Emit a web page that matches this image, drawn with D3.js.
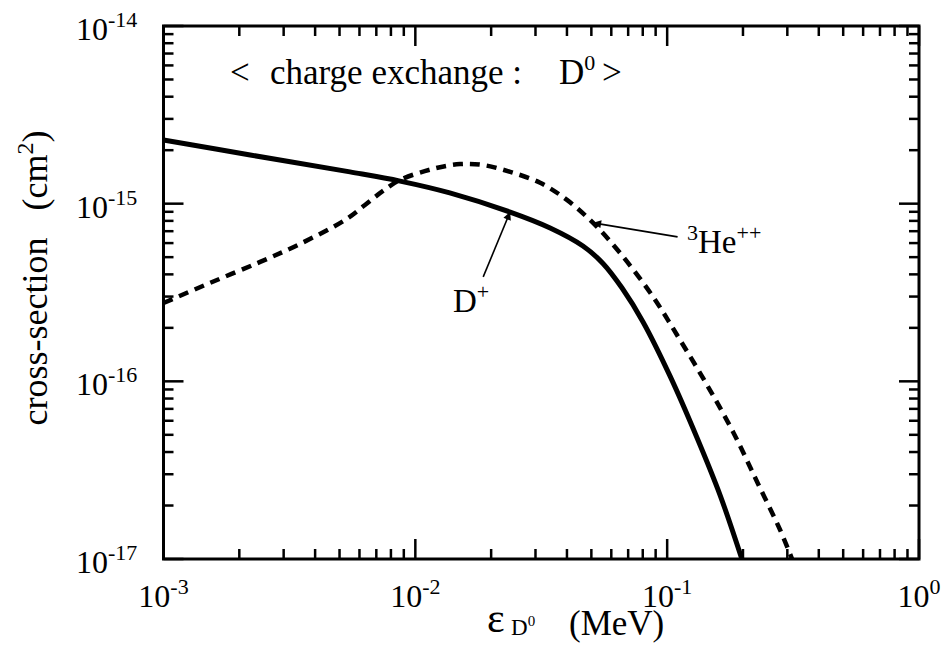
<!DOCTYPE html>
<html lang="en">
<head>
<meta charset="UTF-8">
<title>charge exchange</title>
<script src="https://unpkg.com/d3@7.8.5/dist/d3.min.js"></script>
<style>
  body { margin: 0; background: #fff; }
  text { font-family: "Liberation Serif", "DejaVu Serif", serif; fill: #000; white-space: pre; }
</style>
</head>
<body>
<svg width="945" height="649"></svg>
<script>
// energy (MeV) and cross-section (cm^2)
var dEnergy = [0.001, 0.00221, 0.0055, 0.0087, 0.0137, 0.0238, 0.0343, 0.0463, 0.0556, 0.0662, 0.0802, 0.1027, 0.1315, 0.1622, 0.198]
var dSigma  = [2.28e-15, 1.88e-15, 1.51e-15, 1.34e-15, 1.15e-15, 8.97e-16, 7.3e-16, 5.78e-16, 4.61e-16, 3.35e-16, 2.16e-16, 1.07e-16, 4.8e-17, 2.29e-17, 1.0e-17]

var heEnergy = [0.001, 0.00153, 0.00242, 0.00348, 0.00526, 0.00631, 0.00744, 0.0087, 0.01175, 0.01505, 0.01857, 0.0238, 0.0313, 0.040, 0.0508, 0.065, 0.0879, 0.1125, 0.144, 0.1827, 0.2275, 0.2807, 0.3133]
var heSigma  = [2.76e-16, 3.58e-16, 4.70e-16, 5.93e-16, 8.10e-16, 9.83e-16, 1.18e-15, 1.36e-15, 1.57e-15, 1.67e-15, 1.65e-15, 1.51e-15, 1.31e-15, 1.05e-15, 7.79e-16, 5.28e-16, 2.99e-16, 1.71e-16, 9.54e-17, 5.19e-17, 2.72e-17, 1.46e-17, 1.0e-17]

var xDecades = [-3, -2, -1, 0]
var yDecades = [-14, -15, -16, -17]

var svg = d3.select('svg')
var pLeft = 163.5, pRight = 919, pTop = 26, pBottom = 559

var x = d3.scaleLog().domain([1e-3, 1]).range([pLeft, pRight])
var y = d3.scaleLog().domain([1e-17, 1e-14]).range([pBottom, pTop])

// frame
svg.append('rect')
  .attr('x', pLeft).attr('y', pTop)
  .attr('width', pRight - pLeft).attr('height', pBottom - pTop)
  .attr('fill', 'none').attr('stroke', '#000').attr('stroke-width', 3)

function isMajor(v) {
  var l = Math.log10(v)
  return Math.abs(l - Math.round(l)) < 1e-6
}

// ticks pointing inwards on all four sides
var ticks = svg.append('g').attr('stroke', '#000').attr('stroke-width', 2.5)
x.ticks().forEach(function (v) {
  var len = isMajor(v) ? 20 : 10
  ticks.append('line').attr('x1', x(v)).attr('x2', x(v)).attr('y1', pBottom).attr('y2', pBottom - len)
  ticks.append('line').attr('x1', x(v)).attr('x2', x(v)).attr('y1', pTop).attr('y2', pTop + len)
})
y.ticks().forEach(function (v) {
  var len = isMajor(v) ? 20 : 10
  ticks.append('line').attr('y1', y(v)).attr('y2', y(v)).attr('x1', pLeft).attr('x2', pLeft + len)
  ticks.append('line').attr('y1', y(v)).attr('y2', y(v)).attr('x1', pRight).attr('x2', pRight - len)
})

// tick labels 10^n
xDecades.forEach(function (d) {
  var t = svg.append('text').attr('x', x(Math.pow(10, d))).attr('y', 607)
    .attr('text-anchor', 'middle').attr('font-size', 32)
  t.append('tspan').text('10')
  t.append('tspan').attr('dy', -13).attr('font-size', 22).text(d === 0 ? '0' : '-' + (-d))
})
yDecades.forEach(function (d) {
  var t = svg.append('text').attr('x', 76).attr('y', y(Math.pow(10, d)) + 14)
    .attr('font-size', 32)
  t.append('tspan').text('10')
  t.append('tspan').attr('dy', -13).attr('font-size', 22).text('-' + (-d))
})

// curves
var line = d3.line()
  .x(function (d) { return x(d[0]) })
  .y(function (d) { return y(d[1]) })
  .curve(d3.curveCatmullRom.alpha(0.5))

svg.append('path')
  .datum(d3.zip(heEnergy, heSigma))
  .attr('d', line)
  .attr('fill', 'none').attr('stroke', '#000').attr('stroke-width', 4.5)
  .attr('stroke-dasharray', '10,7')

svg.append('path')
  .datum(d3.zip(dEnergy, dSigma))
  .attr('d', line)
  .attr('fill', 'none').attr('stroke', '#000').attr('stroke-width', 5)

// arrowhead
svg.append('defs').append('marker')
  .attr('id', 'head').attr('viewBox', '0 0 10 10')
  .attr('refX', 10).attr('refY', 5)
  .attr('markerWidth', 13).attr('markerHeight', 8)
  .attr('markerUnits', 'userSpaceOnUse')
  .attr('orient', 'auto')
  .append('path').attr('d', 'M0,0 L10,5 L0,10 Z').attr('fill', '#000')

function arrow(x0, y0, x1, y1) {
  svg.append('line')
    .attr('x1', x(x0)).attr('y1', y(y0))
    .attr('x2', x(x1)).attr('y2', y(y1))
    .attr('stroke', '#000').attr('stroke-width', 1.6)
    .attr('marker-end', 'url(#head)')
}
arrow(0.0186, 3.87e-16, 0.0238, 9.0e-16)
arrow(0.110, 6.5e-16, 0.0508, 7.8e-16)

// curve labels
var dl = svg.append('text').attr('x', 453).attr('y', 312).attr('font-size', 33)
dl.append('tspan').text('D')
dl.append('tspan').attr('dy', -13).attr('font-size', 22).text('+')

var hl = svg.append('text').attr('x', 687).attr('y', 253).attr('font-size', 33)
hl.append('tspan').attr('dy', -13).attr('font-size', 22).text('3')
hl.append('tspan').attr('dy', 13).text('He')
hl.append('tspan').attr('dy', -13).attr('font-size', 22).text('++')

// title
var tY = 84
svg.append('text').attr('x', 230).attr('y', tY).attr('font-size', 35).text('<')
svg.append('text').attr('x', 270).attr('y', tY).attr('font-size', 35).text('charge exchange :')
var td = svg.append('text').attr('x', 559).attr('y', tY).attr('font-size', 35)
td.append('tspan').text('D')
td.append('tspan').attr('dy', -14).attr('font-size', 22).text('0')
svg.append('text').attr('x', 602).attr('y', tY).attr('font-size', 35).text('>')

// axis titles
svg.append('text').attr('x', 487).attr('y', 632).attr('font-size', 42).text('ε')
var xs = svg.append('text').attr('x', 511).attr('y', 635).attr('font-size', 23)
xs.append('tspan').text('D')
xs.append('tspan').attr('dy', -9).attr('font-size', 15).text('0')
svg.append('text').attr('x', 569).attr('y', 635).attr('font-size', 35).text('(MeV)')

var yt = svg.append('text')
  .attr('transform', 'translate(47,278) rotate(-90)')
  .attr('text-anchor', 'middle').attr('font-size', 36)
yt.append('tspan').text('cross-section   (cm')
yt.append('tspan').attr('dy', -14).attr('font-size', 24).text('2')
yt.append('tspan').attr('dy', 14).text(')')
</script>
</body>
</html>
